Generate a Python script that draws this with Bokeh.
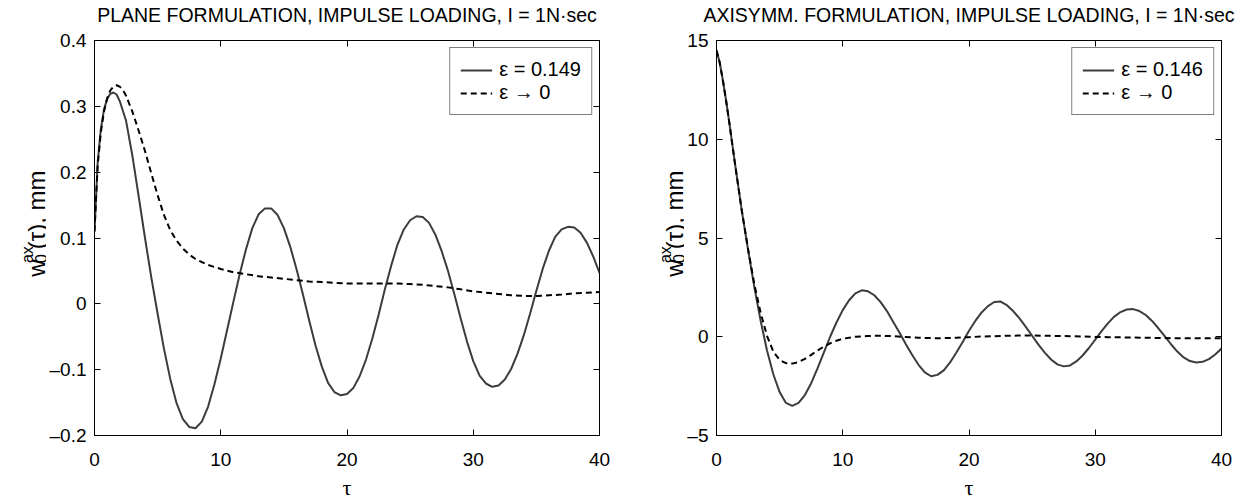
from math import pi
from bokeh.plotting import figure
from bokeh.layouts import row
from bokeh.models import (Range1d, LinearAxis, FixedTicker, CustomJSTickFormatter,
                          Label, Legend, LegendItem)
from bokeh.embed import file_html
from bokeh.resources import INLINE

# ---------------- data ----------------
titles = ["PLANE FORMULATION, IMPULSE LOADING, I = 1N\u00b7sec",
          "AXISYMM. FORMULATION, IMPULSE LOADING, I = 1N\u00b7sec"]
legend_eps = ["\u03b5 = 0.149", "\u03b5 = 0.146"]
legend_zero = "\u03b5 \u2192 0"
x_label = "\u03c4"
y_label_parts = ["w", "ax", "0", "(\u03c4), mm"]
x_ticks = [0, 10, 20, 30, 40]
y_ticks_plane = [-0.2, -0.1, 0, 0.1, 0.2, 0.3, 0.4]
y_ticks_axi = [-5, 0, 5, 10, 15]

tau_plane_eps = [0, 0.25, 0.5, 0.75, 1, 1.25, 1.5, 1.75, 2, 2.5, 3, 3.5, 4, 4.5, 5, 5.5, 6, 6.5,
                 7, 7.5, 8, 8.5, 9, 9.5, 10, 10.5, 11, 11.5, 12, 12.5, 13, 13.5, 14, 14.5, 15, 15.5,
                 16, 16.5, 17, 17.5, 18, 18.5, 19, 19.5, 20, 20.5, 21, 21.5, 22, 22.5, 23, 23.5,
                 24, 24.5, 25, 25.5, 26, 26.5, 27, 27.5, 28, 28.5, 29, 29.5, 30, 30.5, 31, 31.5,
                 32, 32.5, 33, 33.5, 34, 34.5, 35, 35.5, 36, 36.5, 37, 37.5, 38, 38.5, 39, 39.5, 40]
w_plane_eps = [0.11, 0.215, 0.265, 0.295, 0.311, 0.319, 0.321, 0.318, 0.308, 0.278, 0.225, 0.163,
               0.1, 0.04, -0.015, -0.068, -0.114, -0.151, -0.175, -0.187, -0.189, -0.179, -0.156,
               -0.122, -0.083, -0.04, 0.003, 0.045, 0.083, 0.115, 0.136, 0.145, 0.145, 0.135, 0.115,
               0.087, 0.053, 0.015, -0.025, -0.063, -0.095, -0.12, -0.134, -0.139, -0.137, -0.128,
               -0.11, -0.085, -0.053, -0.017, 0.022, 0.058, 0.09, 0.113, 0.127, 0.133, 0.132, 0.123,
               0.105, 0.08, 0.05, 0.015, -0.022, -0.057, -0.087, -0.109, -0.121, -0.126, -0.124,
               -0.115, -0.099, -0.076, -0.048, -0.015, 0.02, 0.053, 0.081, 0.102, 0.113, 0.117,
               0.116, 0.108, 0.093, 0.072, 0.047]

tau_plane_0 = [0, 0.25, 0.5, 0.75, 1, 1.25, 1.5, 1.75, 2, 2.25, 2.5, 3, 3.5, 4, 4.5, 5, 5.5, 6,
               6.5, 7, 7.5, 8, 9, 10, 11, 12, 13, 14, 15, 16, 17, 18, 19, 20, 21, 22, 23, 24, 25,
               26, 27, 28, 29, 30, 31, 32, 33, 34, 35, 36, 37, 38, 39, 40]
w_plane_0 = [0.11, 0.21, 0.26, 0.292, 0.312, 0.324, 0.33, 0.332, 0.33, 0.325, 0.316, 0.292, 0.263,
             0.232, 0.198, 0.165, 0.135, 0.112, 0.096, 0.084, 0.075, 0.068, 0.059, 0.053, 0.048,
             0.045, 0.042, 0.04, 0.038, 0.036, 0.034, 0.033, 0.032, 0.031, 0.031, 0.031, 0.031,
             0.031, 0.03, 0.029, 0.027, 0.025, 0.022, 0.019, 0.017, 0.015, 0.013, 0.012, 0.012,
             0.013, 0.014, 0.016, 0.017, 0.018]

tau_axi_eps = [0, 0.25, 0.5, 0.75, 1, 1.5, 2, 2.5, 3, 3.5, 4, 4.5, 5, 5.5, 6, 6.5, 7, 7.5, 8, 8.5,
               9, 9.5, 10, 10.5, 11, 11.5, 12, 12.5, 13, 13.5, 14, 14.5, 15, 15.5, 16, 16.5, 17,
               17.5, 18, 18.5, 19, 19.5, 20, 20.5, 21, 21.5, 22, 22.5, 23, 23.5, 24, 24.5, 25,
               25.5, 26, 26.5, 27, 27.5, 28, 28.5, 29, 29.5, 30, 30.5, 31, 31.5, 32, 32.5, 33,
               33.5, 34, 34.5, 35, 35.5, 36, 36.5, 37, 37.5, 38, 38.5, 39, 39.5, 40]
w_axi_eps = [14.5, 13.9, 13.0, 12.0, 10.9, 8.6, 6.4, 4.4, 2.5, 0.8, -0.7, -1.9, -2.8, -3.35, -3.5,
             -3.35, -2.95, -2.35, -1.6, -0.8, 0.0, 0.72, 1.35, 1.85, 2.2, 2.35, 2.3, 2.1, 1.75, 1.3,
             0.75, 0.2, -0.38, -0.92, -1.42, -1.8, -2.0, -1.93, -1.7, -1.3, -0.8, -0.27, 0.3, 0.8,
             1.23, 1.55, 1.76, 1.78, 1.6, 1.3, 0.93, 0.5, 0.05, -0.4, -0.8, -1.15, -1.4, -1.5,
             -1.45, -1.25, -0.95, -0.57, -0.15, 0.28, 0.68, 1.02, 1.25, 1.38, 1.4, 1.3, 1.1, 0.8,
             0.43, 0.03, -0.38, -0.75, -1.05, -1.23, -1.3, -1.27, -1.13, -0.9, -0.6]

tau_axi_0 = [0, 0.25, 0.5, 0.75, 1, 1.5, 2, 2.5, 3, 3.5, 4, 4.5, 5, 5.5, 6, 6.5, 7, 7.5, 8, 8.5, 9,
             9.5, 10, 11, 12, 13, 14, 15, 16, 17, 18, 19, 20, 21, 22, 23, 24, 25, 26, 27, 28, 29,
             30, 31, 32, 33, 34, 35, 36, 37, 38, 39, 40]
w_axi_0 = [14.5, 13.9, 13.0, 12.0, 10.9, 8.6, 6.4, 4.45, 2.65, 1.2, 0.05, -0.75, -1.18, -1.34,
           -1.36, -1.28, -1.12, -0.92, -0.7, -0.5, -0.33, -0.2, -0.1, 0.0, 0.04, 0.05, 0.03,
           -0.01, -0.05, -0.07, -0.07, -0.05, -0.02, 0.01, 0.03, 0.05, 0.06, 0.06, 0.05, 0.04,
           0.03, 0.01, -0.01, -0.02, -0.03, -0.04, -0.05, -0.06, -0.07, -0.07, -0.08, -0.08, -0.08]

# ---------------- layout constants ----------------
H = 502
FTOP, FBOT = 38, 437
FONT = "Liberation Sans"


def make_panel(title, tau_e, w_e, tau_z, w_z, leg_e, yr, yticks, ydec, width, bl, br):
    xr = (0, 40)
    p = figure(width=width, height=H, output_backend="svg", toolbar_location=None,
               x_range=Range1d(*xr), y_range=Range1d(*yr),
               min_border_left=bl, min_border_right=br, min_border_top=FTOP,
               min_border_bottom=H - FBOT)
    p.xgrid.visible = False
    p.ygrid.visible = False
    p.outline_line_color = "black"
    p.outline_line_width = 1
    p.background_fill_color = "white"
    p.border_fill_color = "white"

    code = ("var v = Math.abs(tick) < 1e-9 ? '0' : tick.toFixed(%d);"
            "return v.replace('-', '\\u2013');" % ydec)
    for ax in p.yaxis:
        ax.ticker = FixedTicker(ticks=yticks)
        ax.formatter = CustomJSTickFormatter(code=code)
        ax.major_label_standoff = 8
    for ax in p.xaxis:
        ax.ticker = FixedTicker(ticks=x_ticks)
        ax.major_label_standoff = 17
        ax.axis_label = x_label
        ax.axis_label_text_font = "Liberation Serif"
        ax.axis_label_text_font_size = "22px"
        ax.axis_label_text_font_style = "normal"
        ax.axis_label_text_color = "black"
        ax.axis_label_standoff = 6
    for ax in list(p.xaxis) + list(p.yaxis):
        ax.major_tick_in = 6
        ax.major_tick_out = 0
        ax.minor_tick_line_color = None
        ax.axis_line_color = "black"
        ax.major_tick_line_color = "black"
        ax.major_label_text_font = FONT
        ax.major_label_text_font_size = "19px"
        ax.major_label_text_color = "black"

    # top axis: inward ticks, carries the panel title as its label
    top = LinearAxis(ticker=FixedTicker(ticks=x_ticks),
                     formatter=CustomJSTickFormatter(code="return '';"),
                     major_tick_in=6, major_tick_out=0, minor_tick_line_color=None,
                     axis_line_color=None, major_label_standoff=0,
                     axis_label=title, axis_label_standoff=15,
                     axis_label_text_font=FONT, axis_label_text_font_size="19.5px",
                     axis_label_text_font_style="normal", axis_label_text_color="black")
    right = LinearAxis(ticker=FixedTicker(ticks=yticks),
                       formatter=CustomJSTickFormatter(code="return '';"), major_tick_in=6,
                       major_tick_out=0, minor_tick_line_color=None, axis_line_color=None,
                       major_label_standoff=0)
    p.add_layout(top, "above")
    p.add_layout(right, "right")

    r1 = p.line(tau_e, w_e, line_color="#3c3c3c", line_width=2)
    r2 = p.line(tau_z, w_z, line_color="black", line_width=2, line_dash="6 4")

    leg = Legend(items=[LegendItem(label=leg_e, renderers=[r1]),
                        LegendItem(label=legend_zero, renderers=[r2])],
                 location="top_right")
    leg.border_line_color = "black"
    leg.border_line_width = 1
    leg.background_fill_color = "white"
    leg.background_fill_alpha = 1
    leg.label_text_font = FONT
    leg.label_text_font_size = "20px"
    leg.label_text_color = "black"
    leg.glyph_width = 32
    leg.glyph_height = 20
    leg.label_height = 20
    leg.spacing = 0
    leg.padding = 10
    leg.margin = 7
    leg.label_standoff = 7
    p.add_layout(leg)
    return p


def label_fig(width, base_x, center_y):
    """Narrow strip holding the rotated y-axis label w_0^ax(tau), mm."""
    f = figure(frame_width=width, height=H, output_backend="svg", toolbar_location=None,
               x_range=Range1d(0, width), y_range=Range1d(0, H),
               x_axis_type=None, y_axis_type=None, min_border=0,
               min_border_left=0, min_border_right=0, min_border_top=0, min_border_bottom=0)
    f.outline_line_color = None
    f.background_fill_color = "white"
    f.border_fill_color = "white"
    total = 17.3 + 17.5 + 80
    start = H - center_y - total / 2
    specs = [(y_label_parts[0], 0, 0, "24px"), (y_label_parts[1], -9.5, 17.5, "16px"),
             (y_label_parts[2], 4, 17.5, "16px"), (y_label_parts[3], 0, 35, "24px")]
    for txt, dx, ds, fs in specs:
        f.add_layout(Label(x=base_x + dx, y=start + ds, text=txt, angle=pi / 2,
                           text_align="left", text_baseline="alphabetic", text_font=FONT,
                           text_font_size=fs, text_color="black"))
    return f


fy1 = label_fig(46, 36, 243)
p1 = make_panel(titles[0], tau_plane_eps, w_plane_eps, tau_plane_0, w_plane_0, legend_eps[0],
                (-0.2, 0.4), y_ticks_plane, 1, 580, 45, 27)
fy2 = label_fig(58, 48, 243)
p2 = make_panel(titles[1], tau_axi_eps, w_axi_eps, tau_axi_0, w_axi_0, legend_eps[1],
                (-5, 15), y_ticks_axi, 0, 568, 29, 31)

layout = row(fy1, p1, fy2, p2)
open("out.html", "w").write(file_html(layout, INLINE))
